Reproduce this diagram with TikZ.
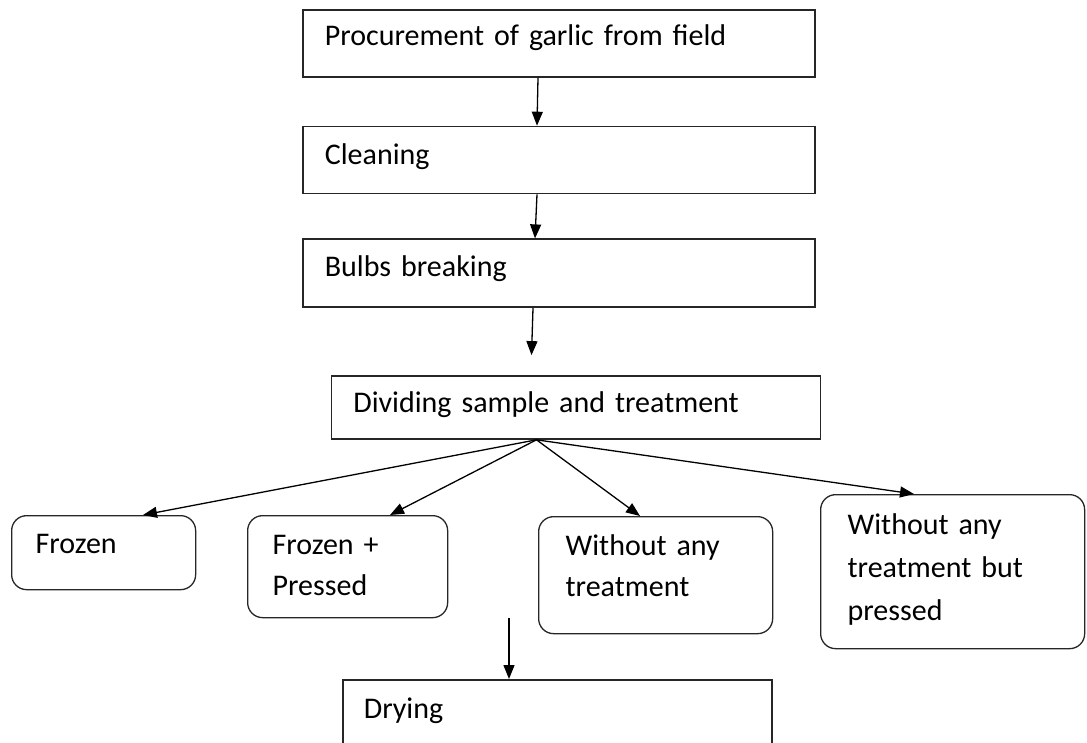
\documentclass[tikz,border=0pt]{standalone}
\usepackage{fontspec}
\setmainfont{Carlito}[WordSpace=0.6]
\usetikzlibrary{positioning,arrows.meta}

\begin{document}
\begin{tikzpicture}[x=1pt, y=-1pt,
		stepbox/.style={draw=black!85, line width=1.7pt, rectangle, align=left, inner xsep=22pt, inner ysep=0pt, text width=468pt, text height=37pt, text depth=30pt, font=\fontsize{30}{41}\selectfont},
		choice/.style={stepbox, rounded corners=15pt, line width=1.3pt, anchor=north west, text height=39pt},
		arr/.style={-{Triangle[length=14pt,width=11pt]}, line width=1.3pt}]
		\useasboundingbox (0,0) rectangle (1087,742);
		% main chain
		\node [stepbox, anchor=north west, text height=36pt, text depth=31pt] (proc) at (302,9) {Procurement of garlic from field};
		\node [stepbox, below=48pt of proc, text height=38pt, text depth=29pt] (clean) {Cleaning};
		\node [stepbox, below=44pt of clean, text depth=31pt] (bulbs) {Bulbs breaking};
		\node [stepbox, below=67pt of bulbs, xshift=17pt, text width=445pt, text depth=26pt] (divide) {Dividing sample and treatment};
		% the four samples
		\node [choice, inner xsep=24pt, text width=136pt, text height=38pt, text depth=36pt] (frozen) at (11,515) {Frozen};
		\node [choice, inner xsep=25pt, text width=150pt, text depth=63pt] (fpress) at (247,515) {Frozen +\\Pressed};
		\node [choice, inner xsep=27pt, text width=180pt, text depth=78pt] (notreat) at (538,516) {Without any\\treatment};
		\node [choice, inner xsep=27pt, text width=210pt, text height=40pt, text depth=114pt, font=\fontsize{30}{43}\selectfont] (npress) at (820,494) {Without any\\treatment but\\pressed};
		\node [stepbox, anchor=north west, inner xsep=21pt, text width=387pt, text height=39pt, text depth=30pt] (drying) at (342,679) {Drying};
		\draw[arr] ([xshift=236pt]proc.south west) -- ([xshift=235pt]clean.north west);
		\draw[arr] ([xshift=235pt]clean.south west) -- ([xshift=233pt]bulbs.north west);
		\draw[arr] ([xshift=231pt]bulbs.south west) -- ([xshift=201pt,yshift=20pt]divide.north west);
		\draw[arr] ([xshift=206pt]divide.south west) -- ([xshift=132pt]frozen.north west);
		\draw[arr] ([xshift=206pt]divide.south west) -- ([xshift=143pt]fpress.north west);
		\draw[arr] ([xshift=206pt]divide.south west) -- ([xshift=102pt]notreat.north west);
		\draw[arr] ([xshift=206pt]divide.south west) -- ([xshift=94pt]npress.north west);
		\draw[arr] ([xshift=167pt,yshift=61pt]drying.north west) -- ([xshift=167pt]drying.north west);
	\end{tikzpicture}
\end{document}
